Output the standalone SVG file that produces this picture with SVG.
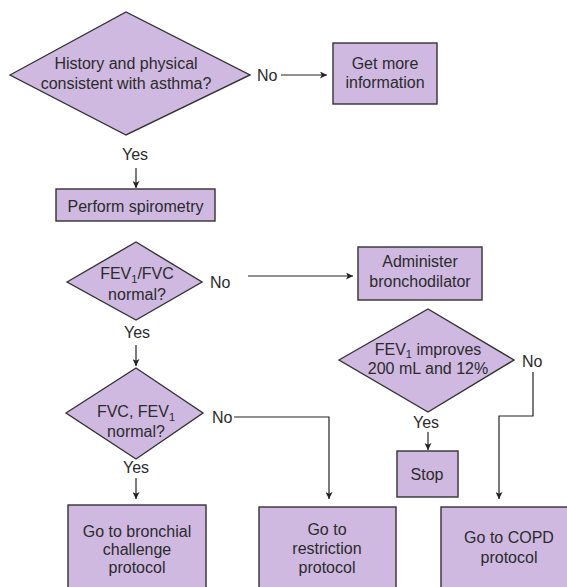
<svg xmlns="http://www.w3.org/2000/svg" width="567" height="587" viewBox="0 0 567 587">
<defs>
<marker id="arr" viewBox="0 0 10 10" refX="10" refY="5" markerWidth="9" markerHeight="7" markerUnits="userSpaceOnUse" orient="auto">
<path d="M0,0 L10,5 L0,10 L2.5,5 Z" fill="#222"/>
</marker>
<style>
.n{fill:#cfb9e1;stroke:#333;stroke-width:1.4}
.t{font-family:"Liberation Sans",Arial,sans-serif;font-size:16px;fill:#2b2b2b;text-anchor:middle}
.l{font-family:"Liberation Sans",Arial,sans-serif;font-size:16px;fill:#2b2b2b}
.c{fill:none;stroke:#222;stroke-width:1.2}
.s{font-size:11px}
</style>
</defs>
<rect width="567" height="587" fill="#fff"/>
<g id="d1"><polygon class="n" points="10,75 126,12 250,75 126,135"/>
<text class="t" x="126" y="69">History and physical</text>
<text class="t" x="126" y="89">consistent with asthma?</text></g>
<g id="b_info"><rect class="n" x="333" y="43" width="104" height="61"/>
<text class="t" x="385" y="69">Get more</text>
<text class="t" x="385" y="88">information</text></g>
<g id="b_spiro"><rect class="n" x="56" y="189" width="159" height="32"/>
<text class="t" x="135.5" y="212">Perform spirometry</text></g>
<g id="d2"><polygon class="n" points="67,282 136,242 202,282 136,320"/>
<text class="t" x="137" y="279">FEV<tspan class="s" dy="4">1</tspan><tspan dy="-4">/FVC</tspan></text>
<text class="t" x="137" y="300">normal?</text></g>
<g id="b_bron"><rect class="n" x="358" y="247" width="124" height="53"/>
<text class="t" x="420" y="267">Administer</text>
<text class="t" x="420" y="287">bronchodilator</text></g>
<g id="d3"><polygon class="n" points="339,360 428,309 514,360 428,412"/>
<text class="t" x="428" y="355">FEV<tspan class="s" dy="3">1</tspan><tspan dy="-3"> improves</tspan></text>
<text class="t" x="428" y="374">200 mL and 12%</text></g>
<g id="d4"><polygon class="n" points="66,413 136,368 203,413 136,459"/>
<text class="t" x="136" y="417">FVC, FEV<tspan class="s" dy="4">1</tspan></text>
<text class="t" x="136" y="437">normal?</text></g>
<g id="b_stop"><rect class="n" x="397" y="451" width="61" height="46"/>
<text class="t" x="427" y="480">Stop</text></g>
<g id="b_chal"><rect class="n" x="68" y="505" width="138" height="95"/>
<text class="t" x="137" y="537">Go to bronchial</text>
<text class="t" x="137" y="555">challenge</text>
<text class="t" x="137" y="573">protocol</text></g>
<g id="b_rest"><rect class="n" x="259" y="507" width="137" height="95"/>
<text class="t" x="327" y="535">Go to</text>
<text class="t" x="327" y="554">restriction</text>
<text class="t" x="327" y="573">protocol</text></g>
<g id="b_copd"><rect class="n" x="441" y="507" width="140" height="95"/>
<text class="t" x="509" y="543">Go to COPD</text>
<text class="t" x="509" y="563">protocol</text></g>
<g id="connectors">
<text class="l" x="257" y="81">No</text>
<line class="c" x1="281" y1="75" x2="327" y2="75" marker-end="url(#arr)"/>
<text class="t" x="135" y="160">Yes</text>
<line class="c" x1="136" y1="168" x2="136" y2="188" marker-end="url(#arr)"/>
<text class="l" x="210" y="288">No</text>
<line class="c" x1="248" y1="276" x2="353" y2="276" marker-end="url(#arr)"/>
<text class="t" x="137" y="338">Yes</text>
<line class="c" x1="136" y1="345" x2="136" y2="366" marker-end="url(#arr)"/>
<text class="l" x="212" y="423">No</text>
<polyline class="c" points="234,417 329,417 329,499" marker-end="url(#arr)"/>
<text class="t" x="136" y="473">Yes</text>
<line class="c" x1="136" y1="478" x2="136" y2="499" marker-end="url(#arr)"/>
<text class="t" x="426" y="428">Yes</text>
<line class="c" x1="428" y1="432" x2="428" y2="450" marker-end="url(#arr)"/>
<text class="l" x="522" y="367">No</text>
<polyline class="c" points="533,372 533,416 499,416 499,499" marker-end="url(#arr)"/>
</g>
</svg>
